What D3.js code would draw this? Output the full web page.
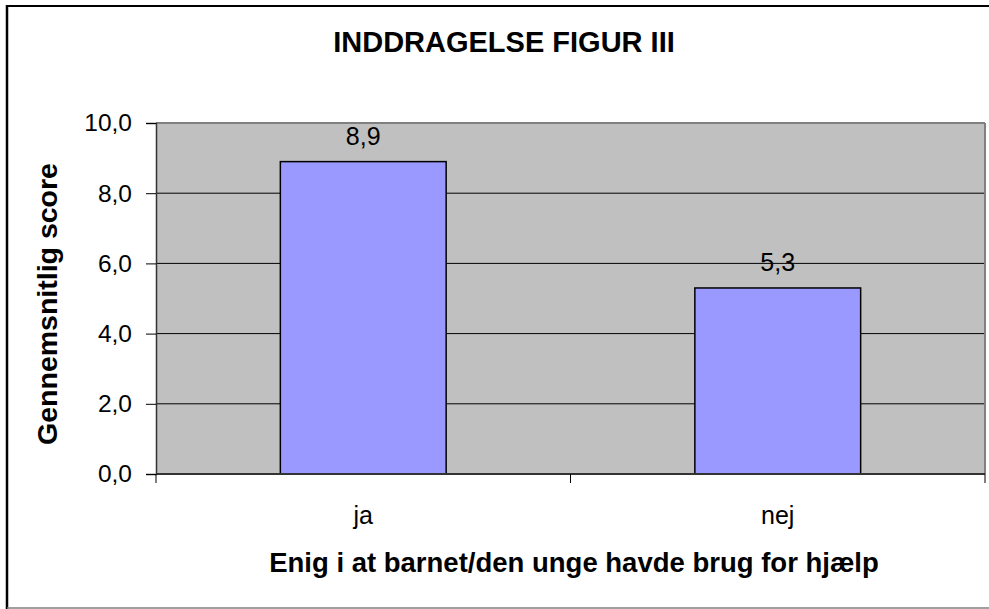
<!DOCTYPE html>
<html>
<head>
<meta charset="utf-8">
<script src="https://cdn.jsdelivr.net/npm/d3@7"></script>
<style>
  body { margin: 0; background: #fff; }
  text { font-family: "Liberation Sans", Arial, sans-serif; fill: #000; }
</style>
</head>
<body>
<div id="chart"></div>
<script>
// data
const categories = ["ja", "nej"];
const scores = [8.9, 5.3];
const yTicks = [0, 2, 4, 6, 8, 10];

const chartTitle = "INDDRAGELSE FIGUR III";
const xTitle = "Enig i at barnet/den unge havde brug for hjælp";
const yTitle = "Gennemsnitlig score";

const width = 989;
const height = 609;
const plot = { left: 156, right: 985, top: 123, bottom: 474 };

const locale = d3.formatLocale({ decimal: ",", thousands: ".", grouping: [3], currency: ["", " kr"] });
const fmt = locale.format(".1f");

const svg = d3.select("#chart")
    .append("svg")
    .attr("width", width)
    .attr("height", height);

// outer frame
svg.append("line").attr("x1", 7).attr("x2", 7).attr("y1", 5).attr("y2", 609)
    .attr("stroke", "#000").attr("stroke-width", 2.5);
svg.append("line").attr("x1", 6).attr("x2", 989).attr("y1", 6).attr("y2", 6)
    .attr("stroke", "#000").attr("stroke-width", 2);
svg.append("line").attr("x1", 7).attr("x2", 989).attr("y1", 608).attr("y2", 608)
    .attr("stroke", "#808080").attr("stroke-width", 1.5);

// scales
const y = d3.scaleLinear().domain([0, 10]).range([plot.bottom, plot.top]);
const xBand = d3.scaleBand().domain(categories).range([plot.left, plot.right])
    .paddingInner(0.6).paddingOuter(0.3);
const xCat = d3.scaleBand().domain(categories).range([plot.left, plot.right]).padding(0);

// plot background
svg.append("rect")
    .attr("x", plot.left).attr("y", plot.top)
    .attr("width", plot.right - plot.left).attr("height", plot.bottom - plot.top)
    .attr("fill", "#c0c0c0");

// gridlines
svg.append("g").selectAll("line")
    .data(yTicks.filter(d => d > 0 && d < 10))
    .join("line")
    .attr("x1", plot.left).attr("x2", plot.right)
    .attr("y1", d => y(d)).attr("y2", d => y(d))
    .attr("stroke", "#000").attr("stroke-width", 1);

// top / right border of plot
svg.append("line").attr("x1", plot.left).attr("x2", plot.right)
    .attr("y1", plot.top).attr("y2", plot.top)
    .attr("stroke", "#808080").attr("stroke-width", 2);
svg.append("line").attr("x1", plot.right).attr("x2", plot.right)
    .attr("y1", plot.top).attr("y2", plot.bottom)
    .attr("stroke", "#808080").attr("stroke-width", 2);

// bars
svg.append("g").selectAll("rect")
    .data(categories)
    .join("rect")
    .attr("x", d => xBand(d))
    .attr("width", xBand.bandwidth())
    .attr("y", (d, i) => y(scores[i]))
    .attr("height", (d, i) => y(0) - y(scores[i]))
    .attr("fill", "#9999ff")
    .attr("stroke", "#000")
    .attr("stroke-width", 1.5);

// data labels
svg.append("g").selectAll("text")
    .data(categories)
    .join("text")
    .attr("x", d => xBand(d) + xBand.bandwidth() / 2)
    .attr("y", (d, i) => y(scores[i]) - 17)
    .attr("text-anchor", "middle")
    .attr("font-size", 25)
    .text((d, i) => fmt(scores[i]));

// y axis
const yAxis = d3.axisLeft(y).tickValues(yTicks).tickSize(10).tickPadding(14).tickFormat(fmt);
const gy = svg.append("g").attr("transform", `translate(${plot.left},0)`).call(yAxis);
gy.select(".domain").attr("stroke", "#333").attr("stroke-width", 1.5);
gy.selectAll(".tick line").attr("stroke", "#000");
gy.selectAll("text").attr("font-size", 24.5).attr("font-family", "Liberation Sans, Arial, sans-serif").attr("fill", "#000");

// x axis (ticks at category boundaries)
svg.append("line").attr("x1", plot.left).attr("x2", plot.right)
    .attr("y1", plot.bottom).attr("y2", plot.bottom)
    .attr("stroke", "#333").attr("stroke-width", 2);
const boundaries = categories.map(d => xCat(d)).concat([xCat(categories[categories.length - 1]) + xCat.bandwidth()]);
svg.append("g").selectAll("line")
    .data(boundaries)
    .join("line")
    .attr("x1", d => d).attr("x2", d => d)
    .attr("y1", plot.bottom).attr("y2", plot.bottom + 9)
    .attr("stroke", "#000").attr("stroke-width", 1);
svg.append("g").selectAll("text")
    .data(categories)
    .join("text")
    .attr("x", d => xCat(d) + xCat.bandwidth() / 2)
    .attr("y", 524)
    .attr("text-anchor", "middle")
    .attr("font-size", 25)
    .text(d => d);

// titles
svg.append("text")
    .attr("x", 504).attr("y", 52)
    .attr("text-anchor", "middle")
    .attr("font-size", 29).attr("font-weight", "bold")
    .text(chartTitle);

svg.append("text")
    .attr("x", 574).attr("y", 572)
    .attr("text-anchor", "middle")
    .attr("font-size", 27.5).attr("font-weight", "bold")
    .text(xTitle);

svg.append("text")
    .attr("transform", "translate(57,304) rotate(-90)")
    .attr("text-anchor", "middle")
    .attr("font-size", 28.5).attr("font-weight", "bold")
    .text(yTitle);
</script>
</body>
</html>
